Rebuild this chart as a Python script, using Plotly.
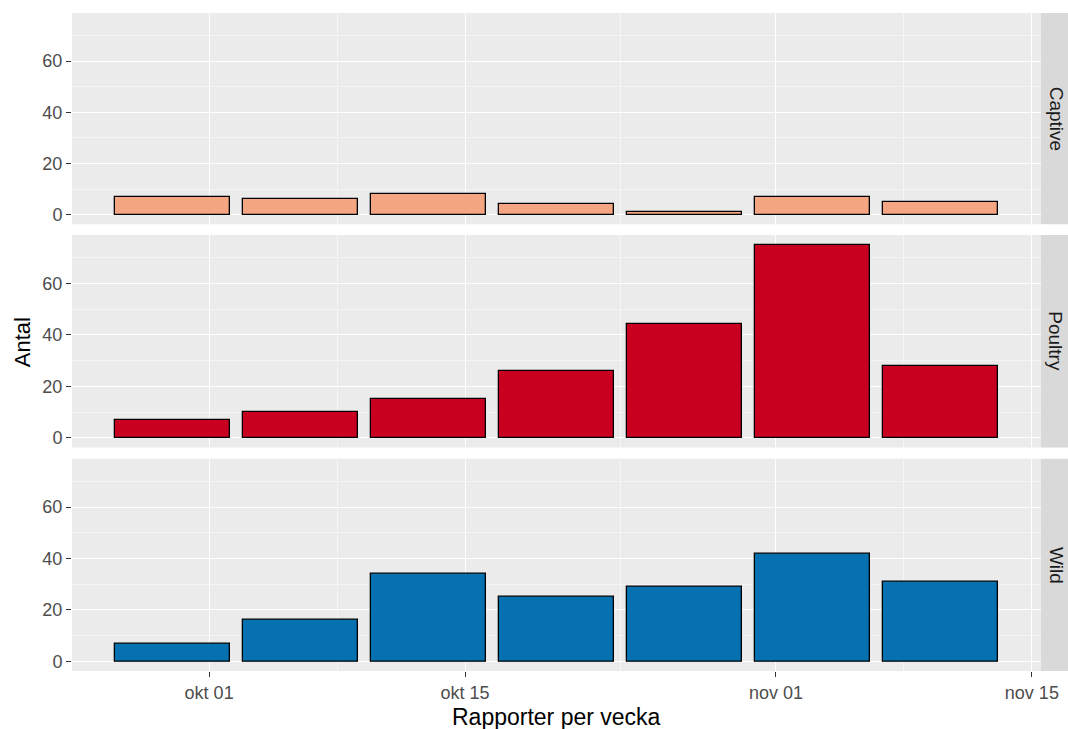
import plotly.graph_objects as go
import pandas as pd

weeks = ["2025-09-29", "2025-10-06", "2025-10-13", "2025-10-20", "2025-10-27", "2025-11-03", "2025-11-10"]
captive = [7, 6, 8, 4, 1, 7, 5]
poultry = [7, 10, 15, 26, 44, 75, 28]
wild = [7, 16, 34, 25, 29, 42, 31]
facets = ["Captive", "Poultry", "Wild"]
colors = ["#F4A582", "#CA0020", "#0571B0"]
x_tickvals = ["2025-10-01", "2025-10-15", "2025-11-01", "2025-11-15"]
x_ticktext = ["okt 01", "okt 15", "nov 01", "nov 15"]
x_minor = ["2025-10-08", "2025-10-23 12:00", "2025-11-08"]
y_tickvals = [0, 20, 40, 60]
y_minor = [10, 30, 50, 70]

series = [captive, poultry, wild]

W, H = 1068, 729
ml, mr, mt, mb = 72, 0, 12.5, 58
plot_w = W - ml - mr
plot_h = H - mt - mb

def py(y_px):
    return (H - mb - y_px) / plot_h

def px(x_px):
    return (x_px - ml) / plot_w

panels = [(12.5, 224), (234.7, 447.3), (458.7, 671)]
x_right = px(1041)

fig = go.Figure()
bar_width = 6.3 * 24 * 3600 * 1000
FONT = "Liberation Sans, Arial, sans-serif"
tick_font = dict(family=FONT, size=18, color="#4D4D4D")

for i, (name, vals, col) in enumerate(zip(facets, series, colors)):
    ax = "" if i == 0 else str(i + 1)
    fig.add_trace(go.Bar(
        x=pd.to_datetime(weeks), y=vals, width=bar_width,
        marker=dict(color=col, line=dict(color="black", width=1.3)),
        xaxis="x" + ax, yaxis="y" + ax, showlegend=False, name=name,
    ))
    top, bot = panels[i]
    yd = [py(bot), py(top)]
    fig.layout["yaxis" + ax] = dict(
        domain=yd, anchor="x" + ax, range=[-3.75, 78.75],
        tickvals=y_tickvals, ticktext=[str(v) for v in y_tickvals],
        showgrid=True, gridcolor="white", gridwidth=1.3,
        minor=dict(tickvals=y_minor, showgrid=True, gridcolor="#F5F5F5", gridwidth=0.7, ticks=""),
        ticks="outside", ticklen=5, tickcolor="#333333", tickwidth=1.1,
        tickfont=tick_font, zeroline=False, showline=False, fixedrange=True,
        automargin=False,
    )
    fig.layout["xaxis" + ax] = dict(
        domain=[0, x_right], anchor="y" + ax, type="date",
        range=["2025-09-23 12:00", "2025-11-15 12:00"],
        tickvals=x_tickvals, ticktext=x_ticktext,
        showticklabels=(i == 2),
        ticks="outside" if i == 2 else "", ticklen=5, tickcolor="#333333", tickwidth=1.1,
        showgrid=True, gridcolor="white", gridwidth=1.3,
        minor=dict(tickvals=x_minor, showgrid=True, gridcolor="#F5F5F5", gridwidth=0.7, ticks=""),
        tickfont=tick_font, zeroline=False, showline=False,
        matches=None if i == 0 else "x", automargin=False,
    )
    fig.add_shape(type="rect", xref="paper", yref="paper", x0=0, x1=x_right,
                  y0=yd[0], y1=yd[1], fillcolor="#EBEBEB", line=dict(width=0), layer="below")
    fig.add_shape(type="rect", xref="paper", yref="paper", x0=px(1041), x1=1.0,
                  y0=yd[0], y1=yd[1], fillcolor="#D9D9D9", line=dict(width=0), layer="below")
    fig.add_annotation(x=px(1056), y=(yd[0] + yd[1]) / 2, xref="paper", yref="paper",
                       text=name, textangle=90, showarrow=False,
                       font=dict(family=FONT, size=19, color="#1A1A1A"),
                       xanchor="center", yanchor="middle", borderpad=0)

fig.add_annotation(x=px(556), y=py(717), xref="paper", yref="paper",
                   text="Rapporter per vecka", showarrow=False,
                   font=dict(family=FONT, size=23, color="black"),
                   xanchor="center", yanchor="middle", borderpad=0)
fig.add_annotation(x=px(22), y=py(342), xref="paper", yref="paper",
                   text="Antal", textangle=-90, showarrow=False,
                   font=dict(family=FONT, size=22, color="black"),
                   xanchor="center", yanchor="middle", borderpad=0)

fig.update_layout(
    width=W, height=H, autosize=False,
    margin=dict(l=ml, r=mr, t=mt, b=mb, pad=0, autoexpand=False),
    paper_bgcolor="white", plot_bgcolor="rgba(0,0,0,0)",
    bargap=0, showlegend=False,
)

post = (
    "document.body.style.margin='0';"
    "document.body.style.overflow='hidden';"
)

fig.write_html(
    "out.html",
    config={"responsive": False, "displayModeBar": False},
    post_script=post,
)
